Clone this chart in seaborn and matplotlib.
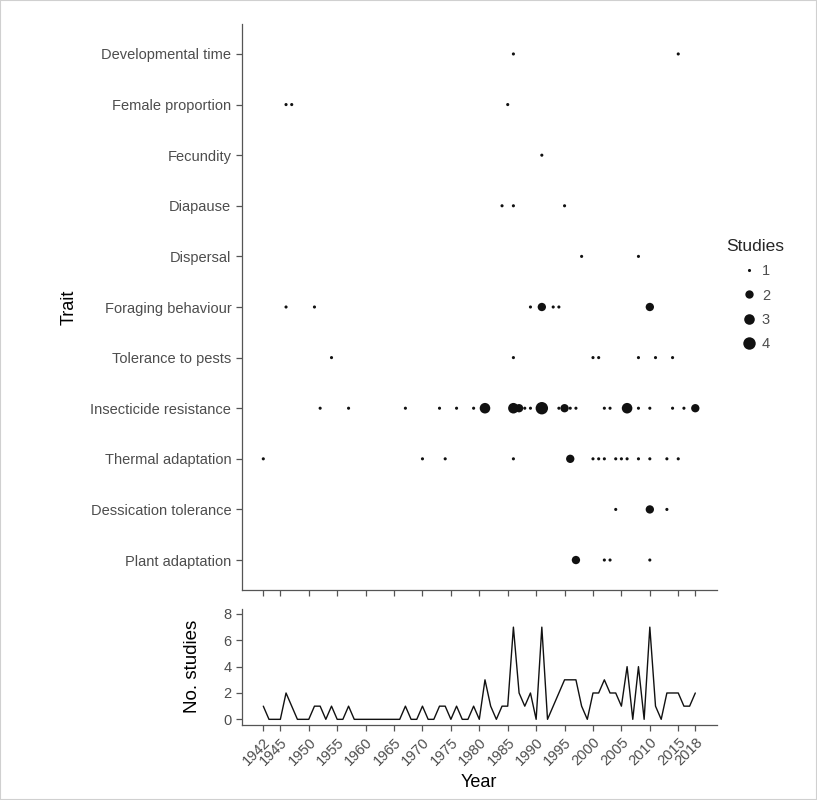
import matplotlib
matplotlib.use("Agg")
import matplotlib.pyplot as plt
import seaborn as sns
import pandas as pd
from matplotlib.patches import Rectangle

# ---------------- data ----------------
traits = ["Developmental time", "Female proportion", "Fecundity", "Diapause",
          "Dispersal", "Foraging behaviour", "Tolerance to pests",
          "Insecticide resistance", "Thermal adaptation",
          "Dessication tolerance", "Plant adaptation"]

dev_years = [1986, 2015]
dev_n = [1, 1]
fem_years = [1946, 1947, 1985]
fem_n = [1, 1, 1]
fec_years = [1991]
fec_n = [1]
dia_years = [1984, 1986, 1995]
dia_n = [1, 1, 1]
dis_years = [1998, 2008]
dis_n = [1, 1]
for_years = [1946, 1951, 1989, 1991, 1993, 1994, 2010]
for_n = [1, 1, 1, 2, 1, 1, 2]
tol_years = [1954, 1986, 2000, 2001, 2008, 2011, 2014]
tol_n = [1, 1, 1, 1, 1, 1, 1]
ins_years = [1952, 1957, 1967, 1973, 1976, 1979, 1981, 1986, 1987, 1988, 1989,
             1991, 1994, 1995, 1996, 1997, 2002, 2003, 2006, 2008, 2010, 2014,
             2016, 2018]
ins_n = [1, 1, 1, 1, 1, 1, 3, 3, 2, 1, 1,
         4, 1, 2, 1, 1, 1, 1, 3, 1, 1, 1,
         1, 2]
the_years = [1942, 1970, 1974, 1986, 1996, 2000, 2001, 2002, 2004, 2005, 2006,
             2008, 2010, 2013, 2015]
the_n = [1, 1, 1, 1, 2, 1, 1, 1, 1, 1, 1, 1, 1, 1, 1]
des_years = [2004, 2010, 2013]
des_n = [1, 2, 1]
pla_years = [1997, 2002, 2003, 2010]
pla_n = [2, 1, 1, 1]

line_years = list(range(1942, 2019))
line_counts = [1, 0, 0, 0, 2, 1, 0, 0, 0, 1, 1, 0, 1, 0, 0, 1,   # 1942-1957
               0, 0, 0, 0, 0, 0, 0, 0, 0,                         # 1958-1966
               1, 0, 0, 1, 0, 0, 1, 1, 0, 1, 0, 0, 1, 0,          # 1967-1980
               3, 1, 0, 1, 1, 7, 2, 1, 2, 0, 7, 0, 1, 2,          # 1981-1994
               3, 3, 3, 1, 0, 2, 2, 3, 2, 2, 1, 4, 0, 4,          # 1995-2008
               0, 7, 1, 0, 2, 2, 2, 1, 1, 2]                      # 2009-2018

x_ticks = [1942, 1945, 1950, 1955, 1960, 1965, 1970, 1975, 1980, 1985,
           1990, 1995, 2000, 2005, 2010, 2015, 2018]
count_ticks = [0, 2, 4, 6, 8]
size_levels = [1, 2, 3, 4]

per_trait = [(dev_years, dev_n), (fem_years, fem_n), (fec_years, fec_n),
             (dia_years, dia_n), (dis_years, dis_n), (for_years, for_n),
             (tol_years, tol_n), (ins_years, ins_n), (the_years, the_n),
             (des_years, des_n), (pla_years, pla_n)]

rows = []
ntr = len(traits)
for i, (t, (ys, ns)) in enumerate(zip(traits, per_trait)):
    for y, n in zip(ys, ns):
        rows.append({"Year": y, "Trait": t, "pos": ntr - 1 - i, "Studies": n})
df = pd.DataFrame(rows)
line_df = pd.DataFrame({"Year": line_years, "Count": line_counts})

# ---------------- style ----------------
sns.set_theme(style="ticks")
plt.rcParams["font.family"] = ["Liberation Sans", "DejaVu Sans"]
grey = "#4d4d4d"
axis_col = "#555555"

W, H = 817, 800
fig = plt.figure(figsize=(W / 100, H / 100), dpi=100)
fig.patch.set_facecolor("white")
fig.patches.append(Rectangle((0, 0), 1, 1, transform=fig.transFigure,
                             fill=False, edgecolor="#d0d0d0", linewidth=1.5))

xmin, xmax = 1942 - 0.05 * 76, 2018 + 0.05 * 76
left = 241.7 / W
width = (716.9 - 241.7) / W

ax1 = fig.add_axes([left, 1 - 590.4 / H, width, (590.4 - 23.6) / H])
ax2 = fig.add_axes([left, 1 - 724.6 / H, width, (724.6 - 608.7) / H])

sizes = {1: 5, 2: 36, 3: 58, 4: 80}
sns.scatterplot(data=df, x="Year", y="pos", size="Studies", sizes=sizes,
                size_order=size_levels, color="#111111", edgecolor="none",
                linewidth=0, ax=ax1, legend="full")

ax1.set_xlim(xmin, xmax)
ax1.set_ylim(-0.6, ntr - 1 + 0.6)
ax1.set_yticks(range(ntr))
ax1.set_yticklabels(traits[::-1])
ax1.set_xticks(x_ticks)
ax1.set_xticklabels([])
ax1.set_xlabel("")
ax1.set_ylabel("Trait", fontsize=13, color="black", labelpad=9)

sns.lineplot(data=line_df, x="Year", y="Count", color="#111111",
             linewidth=1.0, ax=ax2)
ax2.set_xlim(xmin, xmax)
ax2.set_ylim(-0.4, 8.4)
ax2.set_yticks(count_ticks)
ax2.set_xticks(x_ticks)
ax2.set_xticklabels([str(v) for v in x_ticks], rotation=45, ha="right",
                    rotation_mode="anchor")
ax2.set_xlabel("Year", fontsize=13, color="black", labelpad=4)
ax2.set_ylabel("No. studies", fontsize=13.5, color="black", labelpad=16)

for ax in (ax1, ax2):
    sns.despine(ax=ax)
    for s in ("left", "bottom"):
        ax.spines[s].set_color(axis_col)
        ax.spines[s].set_linewidth(0.9)
    ax.tick_params(axis="both", colors=axis_col, labelcolor=grey,
                   labelsize=10.5, length=4, width=0.9)

# legend
leg = ax1.get_legend()
handles, labels = ax1.get_legend_handles_labels()
leg.remove()
fig.legend(handles, labels, title="Studies", loc="upper center",
           bbox_to_anchor=(755 / W, 1 - 226 / H), frameon=False,
           fontsize=10.5, title_fontsize=12.5, labelspacing=0.7,
           handlelength=1.2, handletextpad=0.3, labelcolor=grey)

fig.savefig("out.png", dpi=100, facecolor="white")
